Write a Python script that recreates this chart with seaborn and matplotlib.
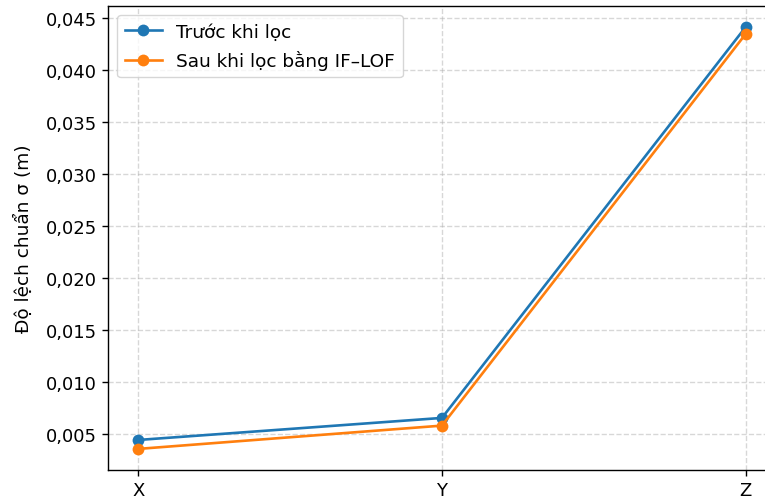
import matplotlib
matplotlib.use("Agg")
import matplotlib.pyplot as plt
from matplotlib.ticker import FuncFormatter, MultipleLocator
import seaborn as sns
import pandas as pd

axes_labels = ["X", "Y", "Z"]
sigma_before = [0.00442, 0.00654, 0.04413]
sigma_after = [0.00356, 0.00580, 0.04346]
series_names = ["Trước khi lọc", "Sau khi lọc bằng IF–LOF"]

df = pd.DataFrame({
    "axis": axes_labels * 2,
    "sigma": sigma_before + sigma_after,
    "series": [series_names[0]] * 3 + [series_names[1]] * 3,
})

fig = plt.figure(figsize=(7.65, 5.02), dpi=100)
ax = fig.add_axes([0.1412, 0.0618, 0.873, 0.924])

sns.lineplot(data=df, x="axis", y="sigma", hue="series", marker="o",
             palette=["#1f77b4", "#ff7f0e"], markersize=8.5, markeredgewidth=0,
             linewidth=1.9, ax=ax, sort=False)

ax.set_xlabel("")
ax.set_ylabel("Độ lệch chuẩn σ (m)", fontsize=13.3, labelpad=9)
ax.yaxis.set_major_locator(MultipleLocator(0.005))
ax.yaxis.set_major_formatter(FuncFormatter(lambda v, p: f"{v:.3f}".replace(".", ",")))
ax.tick_params(axis="both", labelsize=13, length=4.4, width=1.0)
for s in ax.spines.values():
    s.set_linewidth(1.0)
ax.grid(True, linestyle="--", alpha=0.5, linewidth=1.0)
ax.set_xlim(-0.1, 2.1)
ax.legend(loc="upper left", fontsize=13.3)

fig.savefig("out.png", dpi=100)
